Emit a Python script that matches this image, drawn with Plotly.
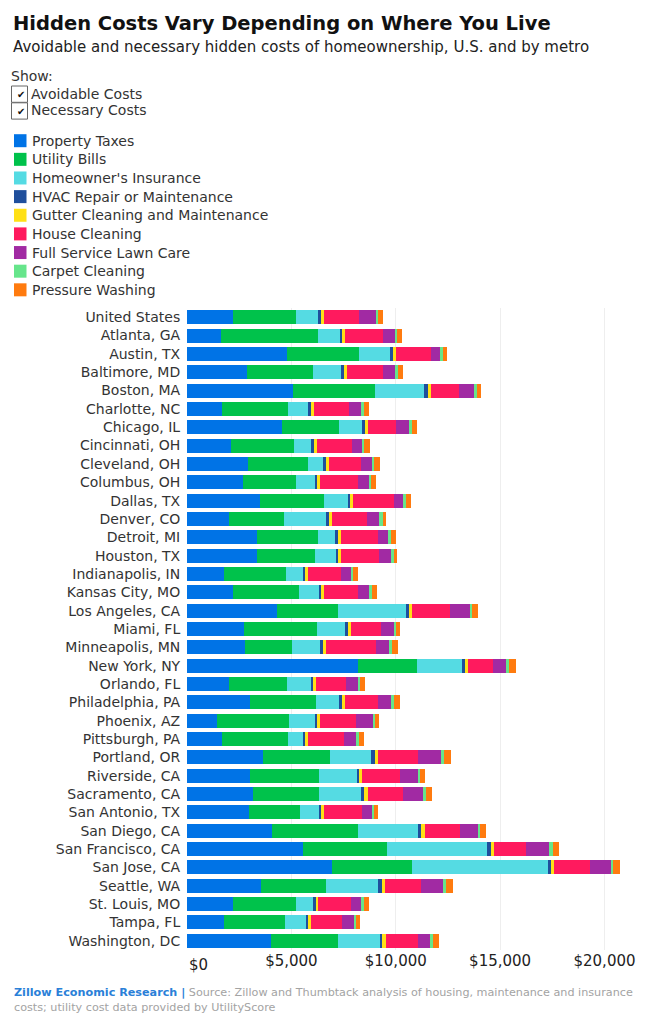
import plotly.graph_objects as go

# metros, top to bottom
cities = [
    "United States", "Atlanta, GA", "Austin, TX", "Baltimore, MD", "Boston, MA",
    "Charlotte, NC", "Chicago, IL", "Cincinnati, OH", "Cleveland, OH", "Columbus, OH",
    "Dallas, TX", "Denver, CO", "Detroit, MI", "Houston, TX", "Indianapolis, IN",
    "Kansas City, MO", "Los Angeles, CA", "Miami, FL", "Minneapolis, MN", "New York, NY",
    "Orlando, FL", "Philadelphia, PA", "Phoenix, AZ", "Pittsburgh, PA", "Portland, OR",
    "Riverside, CA", "Sacramento, CA", "San Antonio, TX", "San Diego, CA", "San Francisco, CA",
    "San Jose, CA", "Seattle, WA", "St. Louis, MO", "Tampa, FL", "Washington, DC",
]

cost_names = [
    "Property Taxes", "Utility Bills", "Homeowner's Insurance", "HVAC Repair or Maintenance",
    "Gutter Cleaning and Maintenance", "House Cleaning", "Full Service Lawn Care",
    "Carpet Cleaning", "Pressure Washing",
]
cost_colors = [
    "#0073e6", "#00c24b", "#55dbe3", "#1f4f9c", "#ffe015",
    "#ff1a5e", "#a12aa3", "#66e58b", "#ff7b0f",
]

# annual cost in $
property_taxes = [2190, 1630, 4770, 2860, 5090, 1700, 4540, 2130, 2900, 2670,
                  3490, 2000, 3340, 3340, 1780, 2190, 4290, 2720, 2770, 8180,
                  2000, 3040, 1420, 1700, 3650, 3040, 3150, 2980, 4060, 5580,
                  6930, 3540, 2190, 1780, 4020]
utility_bills = [3020, 4660, 3490, 3170, 3930, 3120, 2740, 3010, 2890, 2550,
                 3070, 2640, 2950, 2770, 2960, 3170, 2940, 3490, 2250, 2850,
                 2770, 3120, 3460, 3130, 3200, 3300, 3190, 2430, 4120, 4020,
                 3870, 3120, 3020, 2910, 3200]
insurance = [1080, 1040, 1470, 1350, 2320, 990, 1100, 800, 720, 890,
             1170, 2020, 800, 1030, 800, 940, 3270, 1380, 1360, 2130,
             1170, 1120, 1230, 710, 1950, 1790, 2010, 890, 2890, 4780,
             6480, 2490, 820, 1020, 2030]
hvac = [110, 110, 130, 140, 190, 130, 150, 140, 130, 130,
        100, 140, 140, 90, 120, 120, 140, 140, 150, 160,
        90, 160, 130, 120, 200, 100, 140, 120, 150, 180,
        160, 180, 130, 100, 110]
gutter = [140, 110, 140, 140, 150, 120, 140, 130, 140, 130,
          120, 130, 150, 150, 130, 140, 160, 130, 130, 160,
          130, 140, 140, 130, 150, 160, 160, 140, 170, 140,
          160, 140, 130, 130, 160]
house_cleaning = [1700, 1840, 1700, 1730, 1360, 1700, 1330, 1690, 1560, 1840,
                  1960, 1690, 1770, 1820, 1590, 1650, 1810, 1440, 2400, 1200,
                  1460, 1560, 1700, 1710, 1920, 1830, 1700, 1820, 1700, 1550,
                  1700, 1750, 1570, 1470, 1540]
lawn_care = [810, 580, 440, 580, 720, 580, 620, 480, 510, 510,
             450, 580, 500, 580, 490, 510, 960, 620, 620, 620,
             590, 640, 850, 580, 1120, 860, 960, 470, 860, 1080,
             990, 1050, 480, 570, 590]
carpet = [100, 110, 130, 130, 140, 120, 150, 100, 130, 80,
          130, 180, 110, 120, 80, 130, 100, 100, 140, 120,
          90, 120, 60, 140, 130, 80, 160, 110, 80, 180,
          130, 150, 120, 100, 140]
pressure_washing = [220, 240, 180, 250, 200, 240, 250, 270, 270, 260,
                    240, 170, 240, 180, 260, 250, 270, 170, 280, 320,
                    210, 310, 210, 240, 320, 260, 270, 190, 270, 330,
                    320, 300, 240, 220, 270]

series = [property_taxes, utility_bills, insurance, hvac, gutter,
          house_cleaning, lawn_care, carpet, pressure_washing]

tick_vals = [0, 5000, 10000, 15000, 20000]
tick_text = ["", "$5,000", "$10,000", "$15,000", "$20,000"]

# the page body has an 8px margin, so the figure is drawn at (8, 8)
OFF = 8
W, H = 651 - OFF, 1024 - OFF
L, R, T, B = 187 - OFF, 11, 308 - OFF, 74
FONT = "DejaVu Sans"


def px(x):
    # window pixel -> paper x
    return (x - OFF - L) / (W - L - R)


def py(y):
    # window pixel -> paper y
    return (H - B - (y - OFF)) / (H - T - B)


fig = go.Figure()
for name, color, vals in zip(cost_names, cost_colors, series):
    fig.add_trace(go.Bar(
        y=cities, x=vals, name=name, orientation="h",
        marker=dict(color=color, line=dict(width=0)),
        hovertemplate="%{y}<br>" + name + ": $%{x:,}<extra></extra>",
    ))

ann = []
shapes = []

def text(x, y, s, size=14, color="#222", **kw):
    ann.append(dict(x=px(x), y=py(y), xref="paper", yref="paper", text=s,
                    showarrow=False, xanchor="left", yanchor="middle",
                    font=dict(family=FONT, size=size, color=color), **kw))

text(11, 24, "<b>Hidden Costs Vary Depending on Where You Live</b>", size=19.5, color="#111")
text(11, 47, "Avoidable and necessary hidden costs of homeownership, U.S. and by metro",
     size=15, color="#222")

# show toggles
text(9, 76, "Show:", size=14, color="#333")
for i, lab in enumerate(["Avoidable Costs", "Necessary Costs"]):
    y0 = 86 + i * 16.8
    shapes.append(dict(type="rect", xref="paper", yref="paper",
                       x0=px(11.5), x1=px(27.5), y0=py(y0), y1=py(y0 + 16.3),
                       line=dict(color="#666", width=1), fillcolor="white"))
    text(14.5, y0 + 8.5, "✔", size=10, color="#111")
    text(29, y0 + 7.5, lab, size=14, color="#333")

# legend
for i, (name, color) in enumerate(zip(cost_names, cost_colors)):
    yc = 140.7 + i * 18.64
    shapes.append(dict(type="rect", xref="paper", yref="paper",
                       x0=px(14), x1=px(26.5), y0=py(yc - 6.5), y1=py(yc + 6.5),
                       line=dict(width=0), fillcolor=color))
    text(29.5, yc, name, size=14, color="#333")

# $0 label sits flush with the axis start
ann.append(dict(x=0, y=py(965), xref="x", yref="paper", text="$0", showarrow=False,
                xanchor="left", yanchor="middle",
                font=dict(family=FONT, size=15, color="#222")))

text(12, 1000,
     "<span style='color:#2a80d8'><b>Zillow Economic Research |</b></span> "
     "Source: Zillow and Thumbtack analysis of housing, maintenance and insurance<br>"
     "costs; utility cost data provided by UtilityScore",
     size=11.2, color="#a3a3a3", align="left")

fig.update_layout(
    width=W, height=H,
    margin=dict(l=L, r=R, t=T, b=B),
    barmode="stack", bargap=0.236,
    showlegend=False,
    plot_bgcolor="white", paper_bgcolor="white",
    font=dict(family=FONT, size=14, color="#222"),
    annotations=ann, shapes=shapes,
)
fig.update_xaxes(range=[0, 21700], tickvals=tick_vals, ticktext=tick_text,
                 showgrid=True, gridcolor="#eeeeee", gridwidth=1, zeroline=False,
                 tickfont=dict(size=15, color="#222"), ticks="", fixedrange=True,
                 automargin=False)
fig.update_yaxes(autorange="reversed", tickfont=dict(size=14, color="#333"),
                 ticks="outside", ticklen=3, tickcolor="rgba(0,0,0,0)", fixedrange=True,
                 automargin=False)

fig.write_html("out.html")
